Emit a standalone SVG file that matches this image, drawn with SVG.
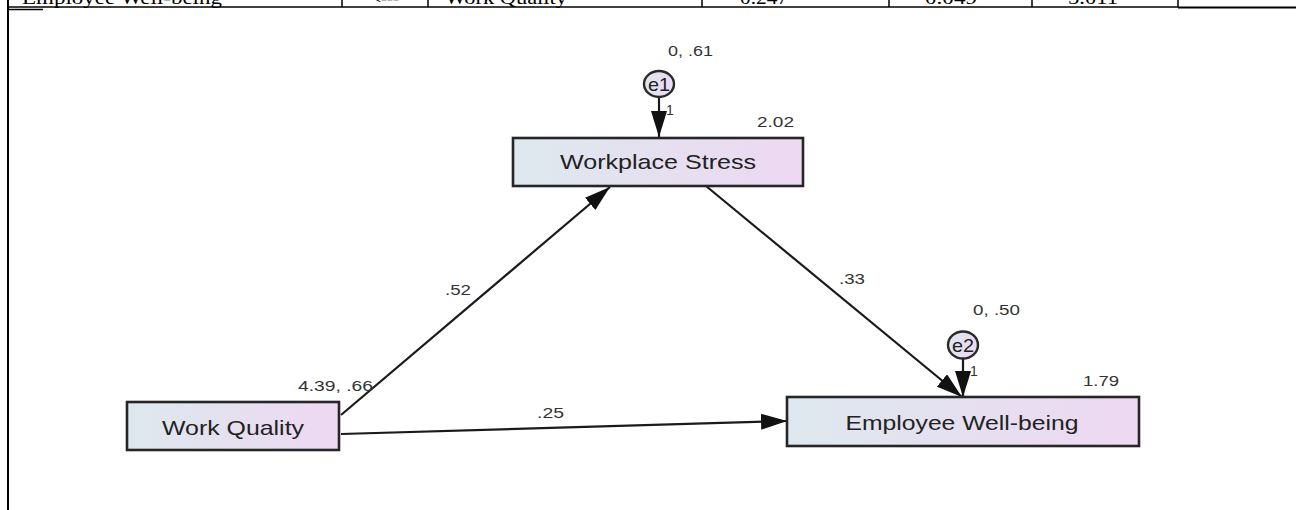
<svg xmlns="http://www.w3.org/2000/svg" width="1296" height="510" viewBox="0 0 1296 510">
<style>
.tbl{font-family:"Liberation Serif",serif;font-size:18px;fill:#000}
.tl{stroke:#000;stroke-width:1.5;fill:none}
.box{stroke:#262626;stroke-width:2.6;fill:url(#g)}
.lbl{font-family:"Liberation Sans",Arial,sans-serif;font-size:21px;fill:#222;text-anchor:middle}
.num{font-family:"Liberation Sans",Arial,sans-serif;font-size:14px;fill:#333}
.edge{stroke:#1a1a1a;stroke-width:2.2;fill:none;marker-end:url(#ah)}
.err{stroke:#2a2a2a;stroke-width:2.4;fill:url(#g)}
</style>
<defs>
<linearGradient id="g" x1="0" y1="0" x2="1" y2="0">
<stop offset="0" stop-color="#dde8ee"/>
<stop offset="1" stop-color="#eed8f2"/>
</linearGradient>
<marker id="ah" viewBox="0 0 26 16" refX="26" refY="8" markerWidth="26" markerHeight="16" markerUnits="userSpaceOnUse" orient="auto">
<path d="M0,0 L26,8 L0,16 z" fill="#111"/>
</marker>
</defs>
<rect width="1296" height="510" fill="#fff"/>
<g id="table">
<text class="tbl" x="22" y="4" textLength="200" lengthAdjust="spacingAndGlyphs">Employee Well-being</text>
<text class="tbl" x="385" y="4" text-anchor="middle">&lt;---</text>
<text class="tbl" x="445" y="4" textLength="122" lengthAdjust="spacingAndGlyphs">Work Quality</text>
<text class="tbl" x="740" y="4" textLength="48" lengthAdjust="spacingAndGlyphs">0.247</text>
<text class="tbl" x="925" y="4" textLength="52" lengthAdjust="spacingAndGlyphs">0.049</text>
<text class="tbl" x="1068" y="4" textLength="50" lengthAdjust="spacingAndGlyphs">5.011</text>
<line class="tl" x1="8" y1="7" x2="1178" y2="7"/>
<line x1="1178" y1="7.5" x2="1296" y2="7.5" stroke="#000" stroke-width="2.2"/>
<line x1="8" y1="0" x2="8" y2="510" stroke="#000" stroke-width="2"/>
<line class="tl" x1="8" y1="9.5" x2="43" y2="9.5"/>
<line class="tl" x1="342" y1="0" x2="342" y2="7"/>
<line class="tl" x1="428" y1="0" x2="428" y2="7"/>
<line class="tl" x1="702" y1="0" x2="702" y2="7"/>
<line class="tl" x1="889" y1="0" x2="889" y2="7"/>
<line class="tl" x1="1032" y1="0" x2="1032" y2="7"/>
<line class="tl" x1="1178" y1="0" x2="1178" y2="7"/>
</g>
<g id="connectors">
<line class="edge" x1="341" y1="415" x2="610" y2="187"/>
<line class="edge" x1="706" y1="186" x2="962" y2="397"/>
<line class="edge" x1="341" y1="434" x2="787" y2="421"/>
<line class="edge" x1="659" y1="97" x2="659" y2="137"/>
<line class="edge" x1="963" y1="358" x2="963" y2="397"/>
<text class="num" x="445" y="295" textLength="26" lengthAdjust="spacingAndGlyphs">.52</text>
<text class="num" x="839" y="284" textLength="26" lengthAdjust="spacingAndGlyphs">.33</text>
<text class="num" x="537" y="418" textLength="27" lengthAdjust="spacingAndGlyphs">.25</text>
<text class="num" x="666" y="115">1</text>
<text class="num" x="970" y="376">1</text>
</g>
<g id="e1">
<ellipse class="err" cx="659" cy="84" rx="15" ry="13"/>
<text class="lbl" x="659" y="91" style="font-size:19px" textLength="22" lengthAdjust="spacingAndGlyphs">e1</text>
<text class="num" x="668" y="56" textLength="45" lengthAdjust="spacingAndGlyphs">0, .61</text>
</g>
<g id="e2">
<ellipse class="err" cx="963" cy="345" rx="15" ry="13.5"/>
<text class="lbl" x="963" y="352" style="font-size:19px" textLength="22" lengthAdjust="spacingAndGlyphs">e2</text>
<text class="num" x="973" y="315" textLength="47" lengthAdjust="spacingAndGlyphs">0, .50</text>
</g>
<g id="workplace-stress">
<rect class="box" x="513" y="138" width="290" height="48"/>
<text class="lbl" x="658" y="169" textLength="196" lengthAdjust="spacingAndGlyphs">Workplace Stress</text>
<text class="num" x="757" y="127" textLength="37" lengthAdjust="spacingAndGlyphs">2.02</text>
</g>
<g id="employee-wellbeing">
<rect class="box" x="787" y="397" width="352" height="49"/>
<text class="lbl" x="962" y="430" textLength="233" lengthAdjust="spacingAndGlyphs">Employee Well-being</text>
<text class="num" x="1083" y="386" textLength="36" lengthAdjust="spacingAndGlyphs">1.79</text>
</g>
<g id="work-quality">
<rect class="box" x="127" y="402" width="212" height="48"/>
<text class="lbl" x="233" y="435" textLength="142" lengthAdjust="spacingAndGlyphs">Work Quality</text>
<text class="num" x="298" y="391" textLength="75" lengthAdjust="spacingAndGlyphs">4.39, .66</text>
</g>
</svg>
